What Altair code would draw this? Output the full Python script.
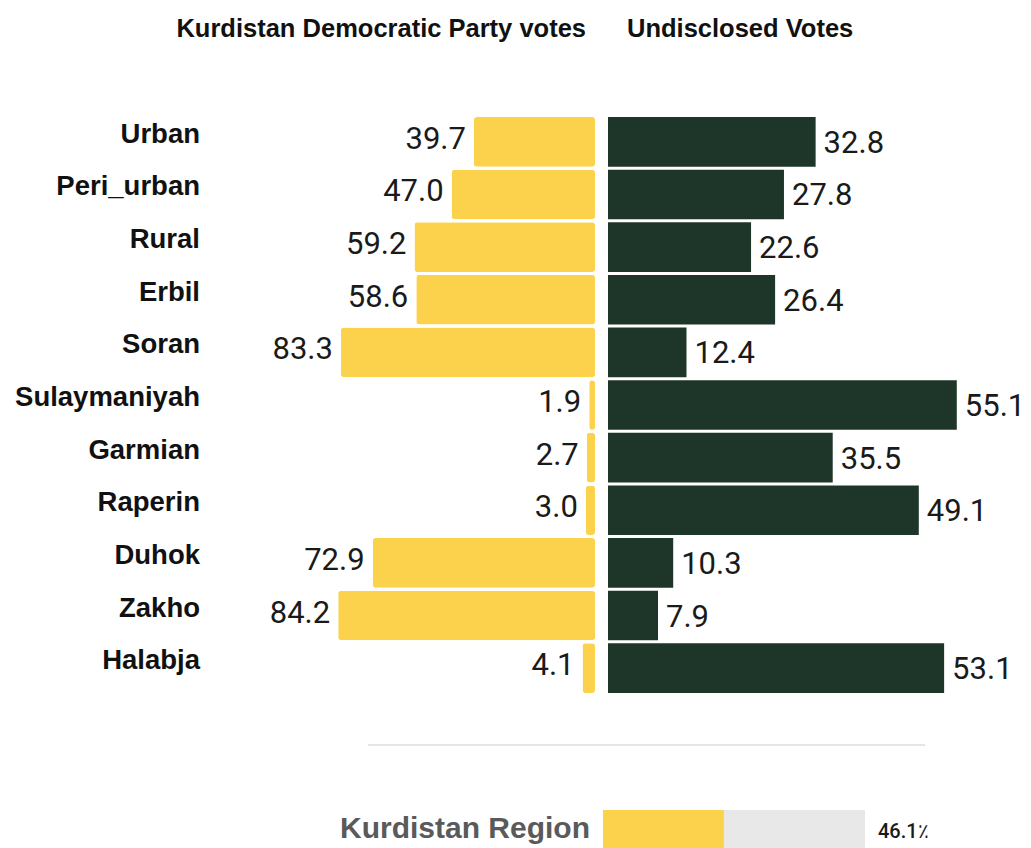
import altair as alt
import pandas as pd

# Share of votes by area
categories = ["Urban", "Peri_urban", "Rural", "Erbil", "Soran", "Sulaymaniyah",
              "Garmian", "Raperin", "Duhok", "Zakho", "Halabja"]
kdp_votes = [39.7, 47.0, 59.2, 58.6, 83.3, 1.9, 2.7, 3.0, 72.9, 84.2, 4.1]
undisclosed_votes = [32.8, 27.8, 22.6, 26.4, 12.4, 55.1, 35.5, 49.1, 10.3, 7.9, 53.1]

# Region-wide total
region_name = ["Kurdistan Region"]
region_kdp = [46.1]
region_full = [100.0]

header_left = "Kurdistan Democratic Party votes"
header_right = "Undisclosed Votes"

YELLOW = "#FCD14B"
DARK = "#1E3629"
LABEL_FONT = "Liberation Sans"
VALUE_FONT = "Roboto"

df = pd.DataFrame({"area": categories, "kdp": kdp_votes, "und": undisclosed_votes})
region_df = pd.DataFrame({"name": region_name, "kdp": region_kdp, "full": region_full,
                          "label": [f"{v:.1f}٪" for v in region_kdp]})

y_enc = alt.Y("area:N", sort=categories, axis=None,
              scale=alt.Scale(domain=categories, range=[115.5, 694.5],
                              paddingInner=0.057, paddingOuter=0.03))

left_scale = alt.Scale(domain=[0, 100], range=[595, 290])
right_scale = alt.Scale(domain=[0, 100], range=[608, 1241])

base = alt.Chart(df)

left_bars = base.mark_bar(color=YELLOW, cornerRadius=3).encode(
    x=alt.X("kdp:Q", scale=left_scale, axis=None), y=y_enc)
left_text = base.mark_text(align="right", baseline="alphabetic", dx=-8, dy=7,
                           font=VALUE_FONT, fontSize=31, color="#1a1a1a").encode(
    x=alt.X("kdp:Q", scale=left_scale, axis=None), y=y_enc,
    text=alt.Text("kdp:Q", format=".1f"))

right_bars = base.mark_bar(color=DARK).encode(
    x=alt.X("und:Q", scale=right_scale, axis=None), y=y_enc)
right_text = base.mark_text(align="left", baseline="alphabetic", dx=8, dy=11,
                            font=VALUE_FONT, fontSize=31, color="#1a1a1a").encode(
    x=alt.X("und:Q", scale=right_scale, axis=None), y=y_enc,
    text=alt.Text("und:Q", format=".1f"))

cat_labels = base.mark_text(align="right", baseline="alphabetic", dy=1,
                            font=LABEL_FONT, fontWeight="bold", fontSize=27.5,
                            color="#111111").encode(
    x=alt.value(200), y=y_enc, text="area:N")

headers = alt.Chart(pd.DataFrame({
    "t": [header_left, header_right], "a": ["right", "left"]
}))
head_l = headers.transform_filter(alt.datum.a == "right").mark_text(
    align="right", baseline="alphabetic", font=LABEL_FONT, fontWeight="bold",
    fontSize=25.5, color="#111111").encode(x=alt.value(586), y=alt.value(37), text="t:N")
head_r = headers.transform_filter(alt.datum.a == "left").mark_text(
    align="left", baseline="alphabetic", font=LABEL_FONT, fontWeight="bold",
    fontSize=25.5, color="#111111").encode(x=alt.value(627), y=alt.value(37), text="t:N")

divider = alt.Chart(pd.DataFrame({"d": [0]})).mark_rule(
    color="#dddddd", strokeWidth=1.5).encode(
    x=alt.value(368), x2=alt.value(925), y=alt.value(745))

region_scale = alt.Scale(domain=[0, 100], range=[603, 865])
region_base = alt.Chart(region_df)
region_bg = region_base.mark_bar(color="#e8e8e8").encode(
    x=alt.X("full:Q", scale=region_scale, axis=None), x2=alt.datum(0),
    y=alt.value(810), y2=alt.value(862))
region_fg = region_base.mark_bar(color=YELLOW).encode(
    x=alt.X("kdp:Q", scale=region_scale, axis=None), x2=alt.datum(0),
    y=alt.value(810), y2=alt.value(862))
region_label = region_base.mark_text(
    align="right", baseline="alphabetic", font=LABEL_FONT, fontWeight="bold",
    fontSize=30, color="#5a5a5a").encode(x=alt.value(590), y=alt.value(838), text="name:N")
region_value = region_base.mark_text(
    align="left", baseline="alphabetic", font=VALUE_FONT, fontWeight=500,
    fontSize=20, color="#1a1a1a").encode(x=alt.value(878), y=alt.value(838), text="label:N")

chart = alt.layer(
    left_bars, left_text, right_bars, right_text, cat_labels, head_l, head_r,
    divider, region_bg, region_fg, region_label, region_value
).resolve_scale(x="independent", y="independent").properties(
    width=1031, height=848, padding=0, autosize=alt.AutoSizeParams(type="none"),
    background="white"
).configure_view(stroke=None)

chart.save("out.html", embed_options={"renderer": "svg", "actions": False})
